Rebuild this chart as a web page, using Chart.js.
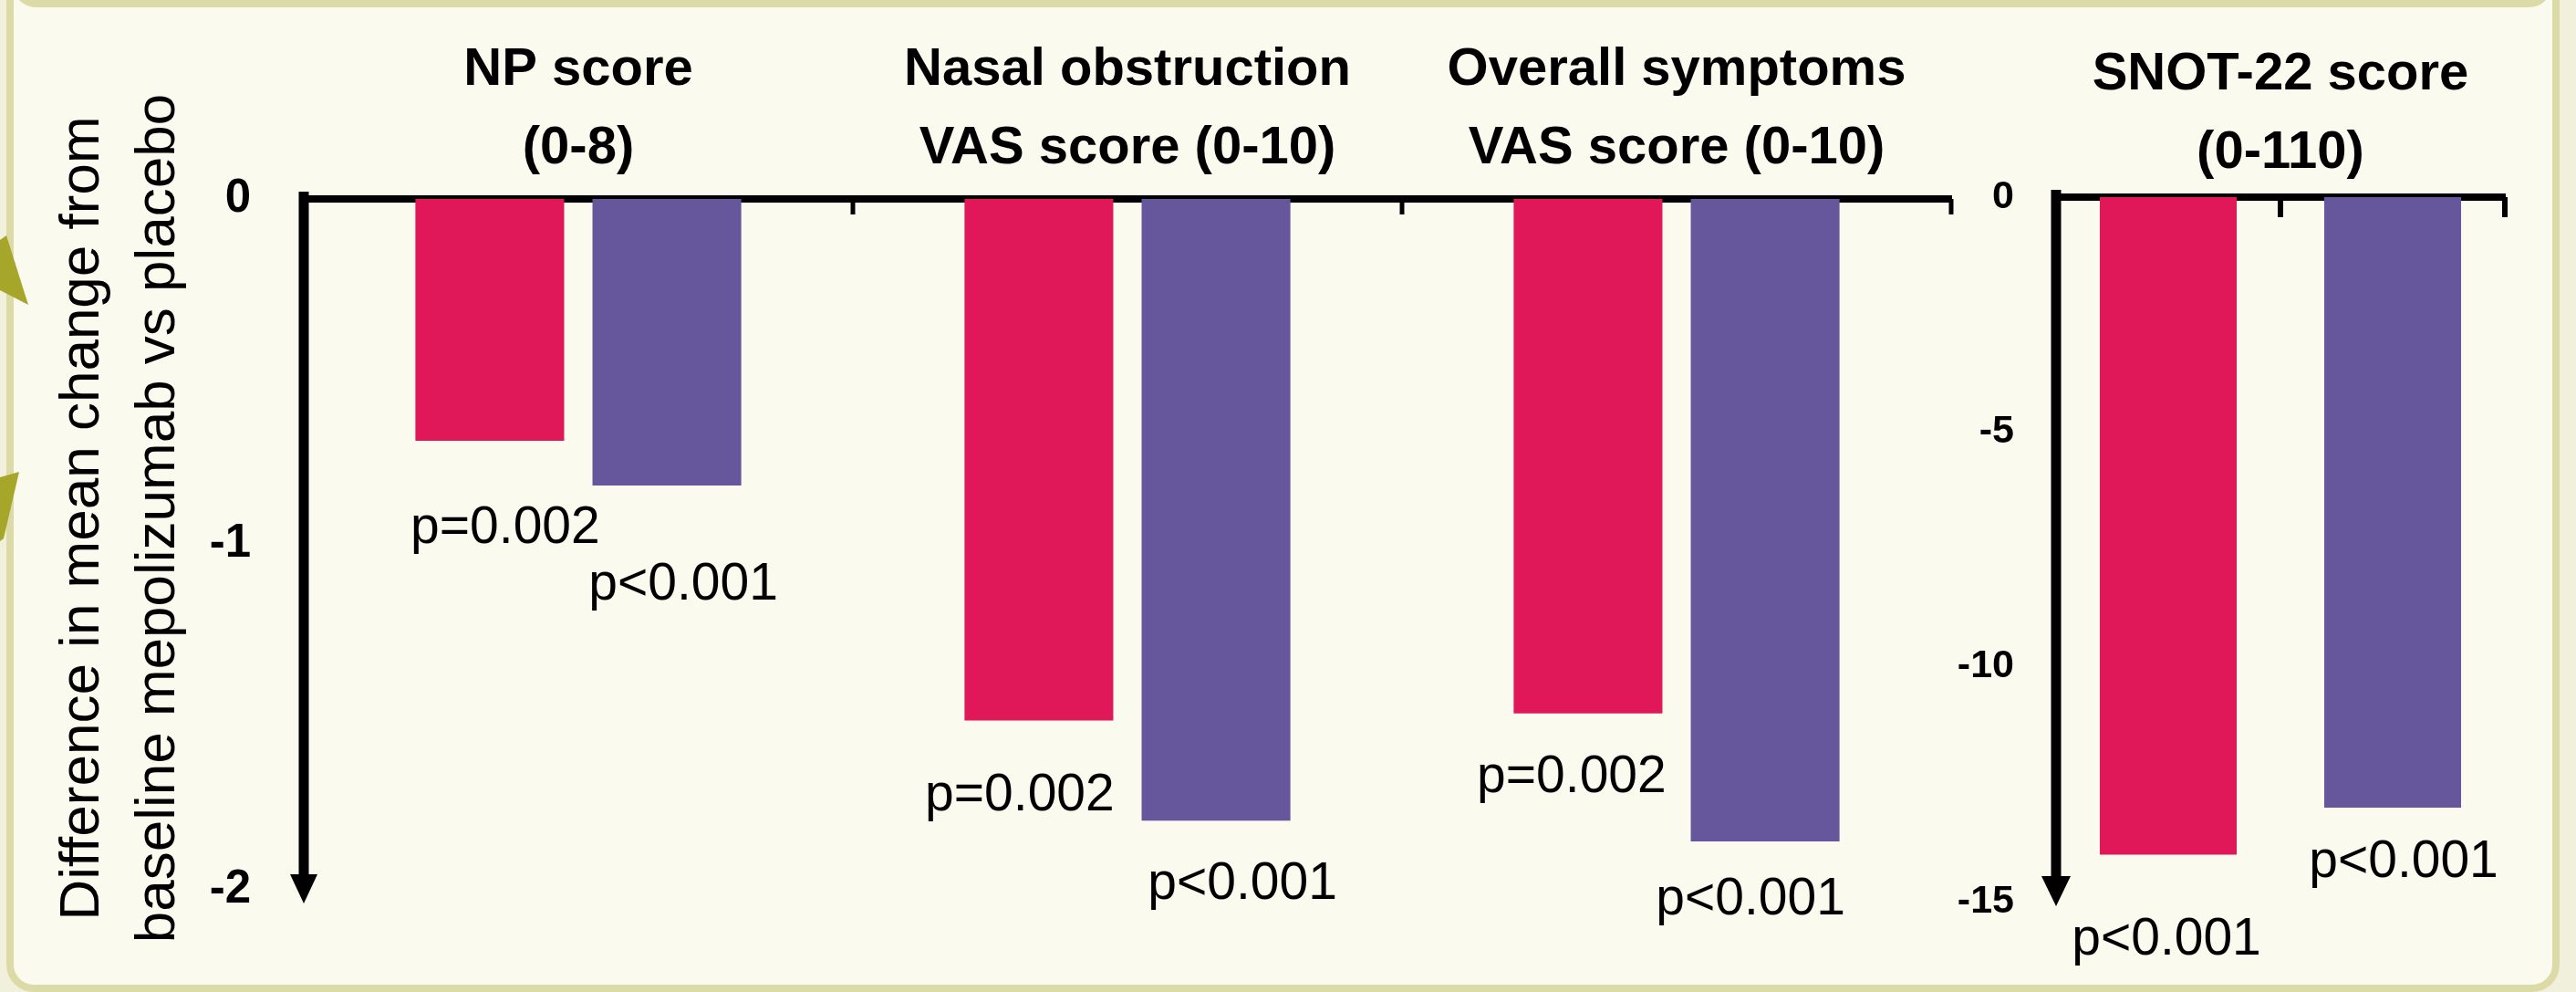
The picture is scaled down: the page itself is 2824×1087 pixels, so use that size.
<!DOCTYPE html>
<html>
<head>
<meta charset="utf-8">
<title>Mepolizumab vs placebo</title>
<script src="https://cdn.jsdelivr.net/npm/chart.js@4.4.1/dist/chart.umd.min.js"></script>
<style>
    html, body { margin: 0; padding: 0; }
    body { width: 2824px; height: 1087px; overflow: hidden; position: relative; background: #f1f0dc; }
    .panel { position: absolute; left: 7px; top: -60px; width: 2783px; height: 1131px;
             border: 8px solid #dcdba8; border-radius: 30px; background: #fbfaef; }
    .topbar { position: absolute; left: 15px; top: -40px; width: 2766px; height: 32px;
              border: 8px solid #dcdba8; border-radius: 25px; background: #fbfaef; }
    .tri { position: absolute; background: #a6a62a; }
    .tri1 { left: 0; top: 255px; width: 34px; height: 82px; clip-path: polygon(0px 8px, 7px 3px, 31px 79px, 0px 63px); }
    .tri2 { left: 0; top: 515px; width: 24px; height: 80px; clip-path: polygon(0px 8px, 21px 2px, 4px 75px, 0px 78px); }
    .box { position: absolute; top: 0; height: 1087px; }
    #leftBox { left: 0; width: 2160px; }
    #rightBox { left: 2110px; width: 714px; }
</style>
</head>
<body>
<div class="panel"></div>
<div class="topbar"></div>
<div class="tri tri1"></div>
<div class="tri tri2"></div>
<div class="box" id="leftBox"><canvas id="leftChart"></canvas></div>
<div class="box" id="rightBox"><canvas id="rightChart"></canvas></div>

<script>
// --- data: difference in mean change from baseline, mepolizumab vs placebo ---
const categories = [
    ["NP score", "(0-8)"],
    ["Nasal obstruction", "VAS score (0-10)"],
    ["Overall symptoms", "VAS score (0-10)"]
];
const pinkValues = [-0.70, -1.51, -1.49];
const purpleValues = [-0.83, -1.80, -1.86];
const pinkP = ["p=0.002", "p=0.002", "p=0.002"];
const purpleP = ["p<0.001", "p<0.001", "p<0.001"];
const leftTicks = [0, -1, -2];

const snotTitle = ["SNOT-22 score", "(0-110)"];
const snotCategories = ["", ""];
const snotPink = [-14.0, null];
const snotPurple = [null, -13.0];
const snotPinkP = ["p<0.001", null];
const snotPurpleP = [null, "p<0.001"];
const rightTicks = [0, -5, -10, -15];

const yTitle = ["Difference in mean change from", "baseline mepolizumab vs placebo"];

// --- styles ---
const FONT = "'Liberation Sans', Arial, sans-serif";
const PINK = "#e0185a";
const PURPLE = "#66569b";

// where each p-value sits relative to the bottom of its bar
const leftPinkOffsets = [[17, 96], [-21, 83], [-18, 70]];
const leftPurpleOffsets = [[18, 109], [29, 70], [-16, 64]];
const rightPinkOffsets = [[-2, 94], null];
const rightPurpleOffsets = [null, [12, 60]];

// p-values under the bars
const pValuePlugin = {
    id: "pValues",
    afterDatasetsDraw(chart) {
        const ctx = chart.ctx;
        ctx.save();
        ctx.font = "57px " + FONT;
        ctx.fillStyle = "#000";
        ctx.textAlign = "center";
        ctx.textBaseline = "middle";
        chart.data.datasets.forEach((ds, di) => {
            const meta = chart.getDatasetMeta(di);
            meta.data.forEach((bar, i) => {
                const txt = ds.pLabels[i];
                if (!txt) return;
                const off = ds.pOffsets[i];
                ctx.fillText(txt, bar.x + off[0], bar.y + off[1]);
            });
        });
        ctx.restore();
    }
};

// tick marks under the x axis, y axis line with arrow head
const axisDecor = {
    id: "axisDecor",
    afterDraw(chart, args, opts) {
        const { ctx, chartArea } = chart;
        const x = chart.scales.x;
        ctx.save();
        ctx.strokeStyle = "#000";
        ctx.fillStyle = "#000";
        ctx.lineWidth = opts.tickWidth;
        for (let i = opts.firstTick; i <= chart.data.labels.length; i++) {
            const px = x.getPixelForValue(i - 0.5);
            ctx.beginPath();
            ctx.moveTo(px, chartArea.top);
            ctx.lineTo(px, chartArea.top + opts.tickLength);
            ctx.stroke();
        }
        const ax = chartArea.left;
        const ay = chartArea.bottom;
        ctx.lineWidth = opts.axisWidth;
        ctx.beginPath();
        ctx.moveTo(ax, chartArea.top - 8);
        ctx.lineTo(ax, ay - opts.arrowLen + 2);
        ctx.stroke();
        ctx.beginPath();
        ctx.moveTo(ax - opts.arrowHalf, ay - opts.arrowLen);
        ctx.lineTo(ax + opts.arrowHalf, ay - opts.arrowLen);
        ctx.lineTo(ax, ay);
        ctx.closePath();
        ctx.fill();
        ctx.restore();
    }
};

// rotated two-line y axis title
const yTitlePlugin = {
    id: "yTitle",
    afterDraw(chart, args, opts) {
        if (!opts.lines) return;
        const ctx = chart.ctx;
        ctx.save();
        ctx.font = opts.font;
        ctx.fillStyle = "#000";
        ctx.textAlign = "center";
        ctx.textBaseline = "alphabetic";
        ctx.translate(opts.x, opts.y);
        ctx.rotate(-Math.PI / 2);
        opts.lines.forEach((line, i) => ctx.fillText(line, 0, i * opts.lineGap));
        ctx.restore();
    }
};

Chart.defaults.font.family = FONT;
Chart.defaults.color = "#000";

// --- left chart: NP score, nasal obstruction, overall symptoms ---
new Chart(document.getElementById("leftChart"), {
    type: "bar",
    data: {
        labels: categories,
        datasets: [
            { data: pinkValues, backgroundColor: PINK, pLabels: pinkP, pOffsets: leftPinkOffsets,
              categoryPercentage: 0.645, barPercentage: 0.84 },
            { data: purpleValues, backgroundColor: PURPLE, pLabels: purpleP, pOffsets: leftPurpleOffsets,
              categoryPercentage: 0.645, barPercentage: 0.84 }
        ]
    },
    options: {
        responsive: true,
        maintainAspectRatio: false,
        animation: false,
        devicePixelRatio: 1,
        layout: { padding: { left: 0, right: 21, top: 0, bottom: 97 } },
        plugins: {
            legend: { display: false },
            tooltip: { enabled: false },
            axisDecor: { firstTick: 1, tickLength: 17, tickWidth: 5, axisWidth: 11, arrowLen: 32, arrowHalf: 15 },
            yTitle: { lines: yTitle, font: "62px " + FONT, x: 108, y: 568, lineGap: 83 }
        },
        scales: {
            x: {
                position: "top",
                grid: { display: false, drawTicks: false },
                border: { display: true, width: 8, color: "#000" },
                ticks: { padding: 12, maxRotation: 0, autoSkip: false,
                         font: { size: 58, weight: "bold", lineHeight: 86 / 58 } },
                afterFit: s => { s.height = 218; }
            },
            y: {
                min: -2.04,
                max: 0,
                grid: { display: false, drawTicks: false },
                border: { display: false },
                ticks: { padding: 58, font: { size: 51, weight: "bold" } },
                afterBuildTicks: s => { s.ticks = leftTicks.map(v => ({ value: v })); },
                afterFit: s => { s.width = 333; }
            }
        }
    },
    plugins: [pValuePlugin, axisDecor, yTitlePlugin]
});

// --- right chart: SNOT-22 score ---
new Chart(document.getElementById("rightChart"), {
    type: "bar",
    data: {
        labels: snotCategories,
        datasets: [
            { data: snotPink, backgroundColor: PINK, pLabels: snotPinkP, pOffsets: rightPinkOffsets,
              skipNull: true, categoryPercentage: 1, barPercentage: 0.61 },
            { data: snotPurple, backgroundColor: PURPLE, pLabels: snotPurpleP, pOffsets: rightPurpleOffsets,
              skipNull: true, categoryPercentage: 1, barPercentage: 0.61 }
        ]
    },
    options: {
        responsive: true,
        maintainAspectRatio: false,
        animation: false,
        devicePixelRatio: 1,
        layout: { padding: { left: 0, right: 78, top: 0, bottom: 94 } },
        plugins: {
            legend: { display: false },
            tooltip: { enabled: false },
            axisDecor: { firstTick: 0, tickLength: 22, tickWidth: 6, axisWidth: 11, arrowLen: 33, arrowHalf: 16 },
            yTitle: {}
        },
        scales: {
            x: {
                position: "top",
                grid: { display: false, drawTicks: false },
                border: { display: true, width: 8, color: "#000" },
                ticks: { display: false },
                title: { display: true, text: snotTitle, padding: { top: 39, bottom: 0 },
                         font: { size: 58, weight: "bold", lineHeight: 86 / 58 } },
                afterFit: s => { s.height = 216; }
            },
            y: {
                min: -15.1,
                max: 0,
                grid: { display: false, drawTicks: false },
                border: { display: false },
                ticks: { padding: 46, font: { size: 43, weight: "bold" } },
                afterBuildTicks: s => { s.ticks = rightTicks.map(v => ({ value: v })); },
                afterFit: s => { s.width = 144; }
            }
        }
    },
    plugins: [pValuePlugin, axisDecor, yTitlePlugin]
});
</script>
</body>
</html>
